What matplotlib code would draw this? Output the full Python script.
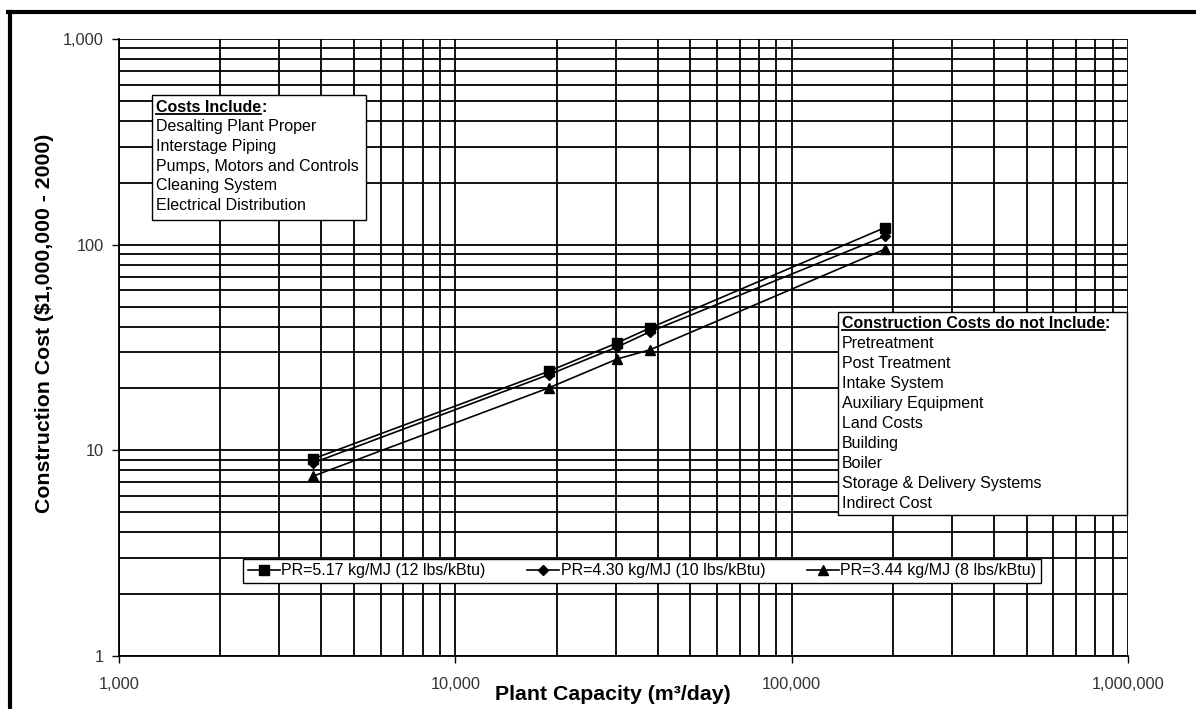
import matplotlib
matplotlib.use('Agg')
import matplotlib.pyplot as plt
from matplotlib.lines import Line2D
from matplotlib.patches import Rectangle
from matplotlib.ticker import FuncFormatter, LogLocator, NullFormatter

plt.rcParams['font.family'] = ['Liberation Sans', 'DejaVu Sans']

# plant capacity in m3/day (1, 5, 8, 10, 50 MGD)
capacity = [3785, 18927, 30283, 37854, 189271]
# construction cost, $1,000,000 (2000)
cost_pr517 = [9.1, 24.2, 33.3, 39.3, 121]
cost_pr430 = [8.7, 23.3, 31.8, 37.7, 110]
cost_pr344 = [7.5, 20.1, 27.8, 30.8, 95]
series_labels = ['PR=5.17 kg/MJ (12 lbs/kBtu)',
                 'PR=4.30 kg/MJ (10 lbs/kBtu)',
                 'PR=3.44 kg/MJ (8 lbs/kBtu)']

include_title = 'Costs Include'
include_items = ['Desalting Plant Proper', 'Interstage Piping',
                 'Pumps, Motors and Controls', 'Cleaning System',
                 'Electrical Distribution']
exclude_title = 'Construction Costs do not Include'
exclude_items = ['Pretreatment', 'Post Treatment', 'Intake System',
                 'Auxiliary Equipment', 'Land Costs', 'Building', 'Boiler',
                 'Storage & Delivery Systems', 'Indirect Cost']

W, H = 1196, 709


def px(x, y):
    """pixel (from top-left) -> figure fraction"""
    return x / W, 1 - y / H


fig = plt.figure(figsize=(W / 100, H / 100), dpi=100)
ax = fig.add_axes([119 / W, 1 - 656 / H, (1128 - 119) / W, (656 - 39) / H])

ax.set_xscale('log')
ax.set_yscale('log')
ax.set_xlim(1e3, 1e6)
ax.set_ylim(1, 1e3)

ax.plot(capacity, cost_pr517, '-s', color='black', lw=1.2, ms=7, label=series_labels[0])
ax.plot(capacity, cost_pr430, '-D', color='black', lw=1.2, ms=5.5, label=series_labels[1])
ax.plot(capacity, cost_pr344, '-^', color='black', lw=1.2, ms=7, label=series_labels[2])

ax.xaxis.set_major_locator(LogLocator(base=10))
ax.yaxis.set_major_locator(LogLocator(base=10))
ax.xaxis.set_minor_locator(LogLocator(base=10, subs=range(2, 10)))
ax.yaxis.set_minor_locator(LogLocator(base=10, subs=range(2, 10)))
fmt = FuncFormatter(lambda v, p: f"{v:,.0f}")
ax.xaxis.set_major_formatter(fmt)
ax.yaxis.set_major_formatter(fmt)
ax.xaxis.set_minor_formatter(NullFormatter())
ax.yaxis.set_minor_formatter(NullFormatter())
ax.grid(which='both', color='black', lw=1.3)
ax.set_axisbelow(True)
ax.tick_params(which='major', length=5, width=1, colors='black', labelsize=11.8,
               labelcolor='#333333')
ax.tick_params(axis='x', pad=10)
ax.tick_params(axis='y', pad=6)
ax.tick_params(which='minor', length=0)
for s in ['top', 'right']:
    ax.spines[s].set_visible(False)
for s in ['left', 'bottom']:
    ax.spines[s].set_linewidth(1.3)

leg = ax.legend(loc='center', bbox_to_anchor=px(642, 571), bbox_transform=fig.transFigure,
                ncol=3, fontsize=11.5, frameon=True, fancybox=False, framealpha=1,
                edgecolor='black', handlelength=2.0, handletextpad=0.1,
                columnspacing=2.6, borderpad=0.3)
leg.get_frame().set_linewidth(1)

fig.text(*px(45, 323), 'Construction Cost ($1,000,000 - 2000)', rotation=90,
         ha='center', va='center', fontsize=15.3, weight='bold')
fig.text(*px(613, 695), 'Plant Capacity (m³/day)', ha='center', va='center',
         fontsize=15.3, weight='bold')

# frame around the figure (top and left)
fig.add_artist(Line2D([8 / W, 1], [1 - 12 / H, 1 - 12 / H], color='black', lw=3))
fig.add_artist(Line2D([10 / W, 10 / W], [0, 1 - 12 / H], color='black', lw=3))


def note_box(x0, y0, x1, y1, title, items, step):
    x, y = px(x0, y1)
    fig.add_artist(Rectangle((x, y), (x1 - x0) / W, (y1 - y0) / H,
                             transform=fig.transFigure, fc='white', ec='black', lw=1))
    t = fig.text(*px(x0 + 4, y0 + 12), title, weight='bold', va='center', fontsize=11.5)
    for i, item in enumerate(items):
        fig.text(*px(x0 + 4, y0 + 12 + step * (i + 1)), item, va='center', fontsize=11.5)
    return t


t1 = note_box(152, 95, 366, 220, include_title, include_items, 19.7)
t2 = note_box(838, 312, 1127, 515, exclude_title, exclude_items, 19.9)

fig.canvas.draw()
for t in (t1, t2):
    bb = t.get_window_extent()
    fig.add_artist(Line2D([bb.x0 / W, bb.x1 / W], [(bb.y0 + 1) / H, (bb.y0 + 1) / H],
                          color='black', lw=1.3))
    fig.text(bb.x1 / W, t.get_position()[1], ':', weight='bold', va='center', fontsize=11.5)

fig.savefig('out.png', dpi=100)
